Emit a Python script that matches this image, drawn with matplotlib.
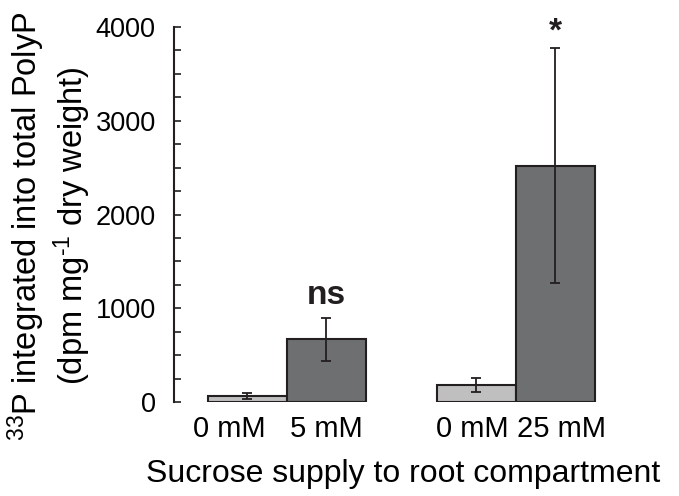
import matplotlib
matplotlib.use("Agg")
import matplotlib.pyplot as plt
import numpy as np

plt.rcParams['font.family'] = ['Liberation Sans', 'DejaVu Sans']
plt.rcParams['mathtext.fontset'] = 'custom'
plt.rcParams['mathtext.rm'] = 'Liberation Sans'
plt.rcParams['mathtext.it'] = 'Liberation Sans:italic'
plt.rcParams['mathtext.bf'] = 'Liberation Sans:bold'

# data
labels = ["0 mM", "5 mM", "0 mM", "25 mM"]
values = [65, 670, 180, 2520]
errors = [30, 230, 78, 1255]
signif = ["", "ns", "", "*"]
positions = [0, 1, 2.9, 3.9]

light = "#bfbfbf"
dark = "#6e6f71"
edge = "#231f20"
colors = [light, dark, light, dark]
label_shift = [-0.23, 0.0, -0.05, 0.08]   # tick labels sit a bit off-centre
mark_gap = {"ns": 150, "*": 80}

fig = plt.figure(figsize=(6.79, 4.96), dpi=100)
ax = fig.add_axes([0.256, 0.1895, 0.657, 0.756])

ax.bar(positions, values, width=1.0, color=colors, edgecolor=edge, linewidth=1.5,
       zorder=2)
ax.errorbar(positions, values, yerr=errors, fmt="none", ecolor=edge,
            elinewidth=1.3, capsize=3.6, capthick=1.3, zorder=3)

# significance marks
for x, v, e, s in zip(positions, values, errors, signif):
    if s:
        ax.text(x, v + e + mark_gap[s], s, ha="center", va="baseline",
                fontsize=24, fontweight="bold", color=edge)

ax.set_xlim(-0.93, 4.72)
ax.set_ylim(0, 4000)
ax.set_yticks([0, 1000, 2000, 3000, 4000])
ax.set_yticks(np.arange(0, 4001, 250), minor=True)
ax.tick_params(axis="y", which="both", direction="in", length=5, width=1.2,
               color=edge, labelsize=19.5, pad=13)
ax.set_xticks([p + d for p, d in zip(positions, label_shift)])
ax.set_xticklabels(labels)
ax.tick_params(axis="x", length=0, labelsize=21, pad=9)

for side in ["top", "right", "bottom"]:
    ax.spines[side].set_visible(False)
ax.spines["left"].set_linewidth(1.5)
ax.spines["left"].set_color(edge)

ax.set_ylabel("$^{33}$P integrated into total PolyP\n(dpm mg$^{\\text{-}1}$ dry weight)",
              fontsize=23.5, labelpad=2, linespacing=1.15)
ax.yaxis.label.set_y(0.47)
ax.set_xlabel("Sucrose supply to root compartment", fontsize=23, labelpad=12)
ax.xaxis.label.set_x(0.515)

fig.savefig("out.png", dpi=100)
